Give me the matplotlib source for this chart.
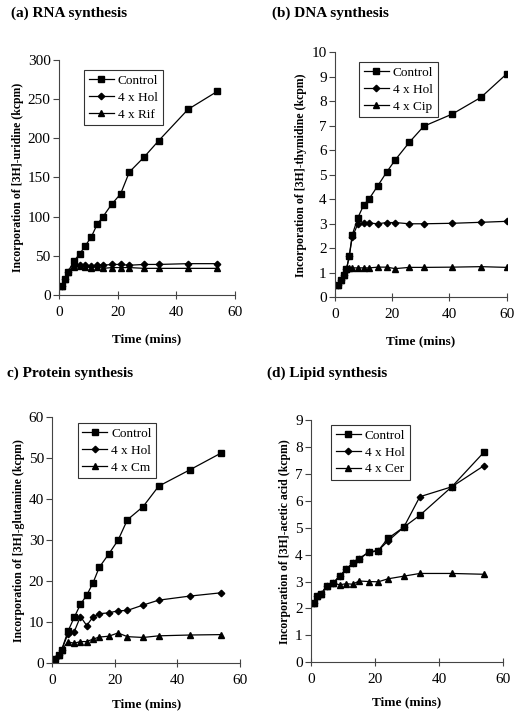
import matplotlib
matplotlib.use('Agg')
import matplotlib.pyplot as plt

plt.rcParams['font.family'] = ['Liberation Serif', 'DejaVu Serif']

# (a) RNA synthesis
t_rna = [1, 2, 3, 5, 7, 9, 11, 13, 15, 18, 21, 24, 29, 34, 44, 54]
rna_control = [11, 20, 29, 43, 52, 63, 74, 90, 100, 116, 129, 157, 176, 197, 237, 260]
rna_hol = [11, 20, 29, 37, 38, 38, 37, 38, 38, 39, 39, 38, 39, 39, 40, 40]
rna_rif = [11, 20, 29, 36, 37, 36, 35, 36, 34, 35, 35, 35, 34, 34, 34, 34]

# (b) DNA synthesis
t_dna = [1, 2, 3, 4, 5, 6, 8, 10, 12, 15, 18, 21, 26, 31, 41, 51, 60]
dna_control = [0.49, 0.71, 0.91, 1.14, 1.69, 2.54, 3.25, 3.76, 4.03, 4.56, 5.1, 5.6, 6.33, 6.98, 7.48, 8.16, 9.12]
dna_hol = [0.49, 0.71, 0.91, 1.14, 1.69, 2.45, 3.0, 3.05, 3.03, 3.0, 3.05, 3.05, 3.0, 3.0, 3.02, 3.06, 3.1]
dna_cip = [0.49, 0.71, 0.91, 1.14, 1.2, 1.2, 1.2, 1.2, 1.2, 1.23, 1.23, 1.17, 1.22, 1.22, 1.23, 1.25, 1.22]

# (c) Protein synthesis
t_prot = [1, 2, 3, 5, 7, 9, 11, 13, 15, 18, 21, 24, 29, 34, 44, 54]
prot_control = [1.0, 2.0, 3.3, 7.8, 11.2, 14.4, 16.6, 19.6, 23.4, 26.6, 30.0, 35.0, 38.2, 43.2, 47.2, 51.3]
prot_hol = [1.0, 2.0, 3.3, 7.2, 7.7, 11.4, 9.2, 11.3, 12.1, 12.3, 12.8, 12.9, 14.2, 15.4, 16.4, 17.2]
prot_cm = [1.0, 2.0, 3.3, 5.2, 4.9, 5.3, 5.3, 5.9, 6.4, 6.6, 7.4, 6.5, 6.3, 6.7, 6.9, 7.0]

# (d) Lipid synthesis
t_lip = [1, 2, 3, 5, 7, 9, 11, 13, 15, 18, 21, 24, 29, 34, 44, 54]
lip_control = [2.22, 2.46, 2.52, 2.85, 2.95, 3.22, 3.45, 3.69, 3.84, 4.1, 4.15, 4.6, 5.02, 5.46, 6.52, 7.8]
lip_hol = [2.22, 2.46, 2.52, 2.85, 2.95, 3.22, 3.45, 3.69, 3.84, 4.08, 4.15, 4.5, 5.02, 6.15, 6.52, 7.3]
lip_cer = [2.22, 2.46, 2.52, 2.82, 2.93, 2.88, 2.92, 2.9, 3.02, 3.0, 2.99, 3.1, 3.2, 3.3, 3.3, 3.27]

panels = [
    dict(title='(a) RNA synthesis', t=t_rna,
         series=[(rna_control, 'Control'), (rna_hol, '4 x Hol'), (rna_rif, '4 x Rif')],
         ylabel='Incorporation of [3H]-uridine (kcpm)', ylim=300, ystep=50,
         rect=[0.1132, 0.588, 0.3378, 0.3282], title_xy=(0.021, 0.991), leg=(0.142, 0.957), xpad=10),
    dict(title='(b) DNA synthesis', t=t_dna,
         series=[(dna_control, 'Control'), (dna_hol, '4 x Hol'), (dna_cip, '4 x Cip')],
         ylabel='Incorporation of [3H]-thymidine (kcpm)', ylim=10, ystep=1,
         rect=[0.643, 0.5848, 0.3296, 0.3422], title_xy=(0.522, 0.991), leg=(0.14, 0.96), xpad=10),
    dict(title='c) Protein synthesis', t=t_prot,
         series=[(prot_control, 'Control'), (prot_hol, '4 x Hol'), (prot_cm, '4 x Cm')],
         ylabel='Incorporation of [3H]-glutamine (kcpm)', ylim=60, ystep=10,
         rect=[0.1004, 0.0736, 0.3603, 0.3436], title_xy=(0.013, 0.488), leg=(0.135, 0.977), xpad=8),
    dict(title='(d) Lipid synthesis', t=t_lip,
         series=[(lip_control, 'Control'), (lip_hol, '4 x Hol'), (lip_cer, '4 x Cer')],
         ylabel='Incorporation of [3H]-acetic acid (kcpm)', ylim=9, ystep=1,
         rect=[0.597, 0.075, 0.3685, 0.3384], title_xy=(0.512, 0.488), leg=(0.104, 0.98), xpad=7),
]

markers = [('s', 4.8), ('D', 3.3), ('^', 4.8)]

fig = plt.figure(figsize=(5.21, 7.16), dpi=100)

for p in panels:
    ax = fig.add_axes(p['rect'])
    for (vals, lab), (m, ms) in zip(p['series'], markers):
        ax.plot(p['t'], vals, color='black', lw=0.9, marker=m, ms=ms, label=lab)
    ax.set_xlim(0, 60)
    ax.set_ylim(0, p['ylim'])
    ax.set_xticks([0, 20, 40, 60])
    n = int(round(p['ylim'] / p['ystep']))
    ax.set_yticks([i * p['ystep'] for i in range(n + 1)])
    ax.spines['top'].set_visible(False)
    ax.spines['right'].set_visible(False)
    ax.spines['left'].set_color('#444444')
    ax.spines['bottom'].set_color('#444444')
    ax.tick_params(axis='y', direction='out', length=4, width=0.8, labelsize=11, pad=2, color='#444444')
    ax.tick_params(axis='x', direction='inout', length=6, width=0.8, labelsize=11, pad=5, color='#444444')
    ax.set_xlabel('Time (mins)', fontsize=9.5, fontweight='bold', labelpad=p['xpad'])
    ax.set_ylabel(p['ylabel'], fontsize=8.5, fontweight='bold', labelpad=3)
    leg = ax.legend(loc='upper left', bbox_to_anchor=p['leg'], borderaxespad=0,
                    fontsize=9.5, frameon=True, fancybox=False, edgecolor='black',
                    handlelength=1.9, handletextpad=0.3, labelspacing=0.35,
                    borderpad=0.35)
    leg.get_frame().set_linewidth(0.8)
    fig.text(p['title_xy'][0], p['title_xy'][1], p['title'], fontsize=11,
             fontweight='bold', ha='left', va='top')

fig.savefig('out.png', dpi=100)
